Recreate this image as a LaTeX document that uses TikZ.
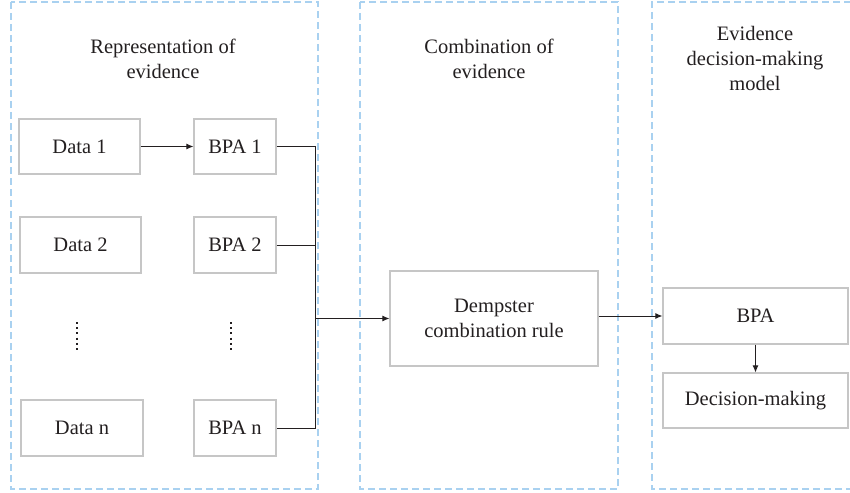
\documentclass[tikz,border=0pt]{standalone}
\usepackage{fontspec}
\setmainfont{Liberation Serif}
\usetikzlibrary{arrows.meta}
\definecolor{dashblue}{HTML}{A9D1F0}
\definecolor{boxgray}{HTML}{C6C6C6}
\definecolor{txt}{HTML}{231F20}
\begin{document}
\begin{tikzpicture}[x=1pt,y=-1pt,
  font=\fontsize{20.5}{25}\selectfont,
  panel/.style={draw=dashblue, line width=1.2pt, dash pattern=on 7pt off 4pt},
  box/.style={draw=boxgray, line width=1.1pt, text=txt, align=center, inner sep=0pt},
  ttl/.style={text=txt, align=center, anchor=base},
  conn/.style={draw=txt, line width=1pt},
  arr/.style={conn, -{Latex[length=7pt,width=6pt]}},
  vdots/.style={draw=txt, line width=2pt, dash pattern=on 2pt off 3.2pt}]
\useasboundingbox (0,0) rectangle (850,492);
% panels
\draw[panel] (11,2) rectangle (318,489);
\draw[panel] (360,2) rectangle (618,489);
\draw[panel] (851,2) -- (652,2) -- (652,489) -- (851,489);
% titles
\node[ttl] (t1) at (163,79) {Representation of\\evidence};
\node[ttl] (t2) at (489,79) {Combination of\\evidence};
\node[ttl] (t3) at (755,91) {Evidence\\decision-making\\model};
% boxes
\node[box, minimum width=121pt, minimum height=55pt] (d1) at (79.5,146.5) {Data 1};
\node[box, minimum width=82pt, minimum height=55pt] (b1) at (235,146.5) {BPA 1};
\node[box, minimum width=121pt, minimum height=56pt] (d2) at (80.5,245) {Data 2};
\node[box, minimum width=82pt, minimum height=56pt] (b2) at (235,245) {BPA 2};
\node[box, minimum width=122pt, minimum height=56pt] (dn) at (82,428) {Data n};
\node[box, minimum width=82pt, minimum height=56pt] (bn) at (235,428) {BPA n};
\node[box, minimum width=208pt, minimum height=95pt] (dem) at (494,318.5) {Dempster\\combination rule};
\node[box, minimum width=185pt, minimum height=56pt] (bpa) at (755.5,316) {BPA};
\node[box, minimum width=185pt, minimum height=55pt] (dec) at (755.5,400.5) {Decision-making};
% dots
\draw[vdots] (76.5,322) -- (76.5,350);
\draw[vdots] (230.5,322) -- (230.5,350);
% connectors
\coordinate (bus) at (315,0);
\draw[arr] (d1) -- (b1);
\draw[conn] (b1.east) -- (b1.east -| bus) -- (bn.east -| bus) -- (bn.east);
\draw[conn] (b2.east) -- (b2.east -| bus);
\draw[arr] (dem.west -| bus) -- (dem.west);
\draw[arr] (dem.east |- bpa.west) -- (bpa.west);
\draw[arr] (bpa) -- (dec);
\end{tikzpicture}
\end{document}
